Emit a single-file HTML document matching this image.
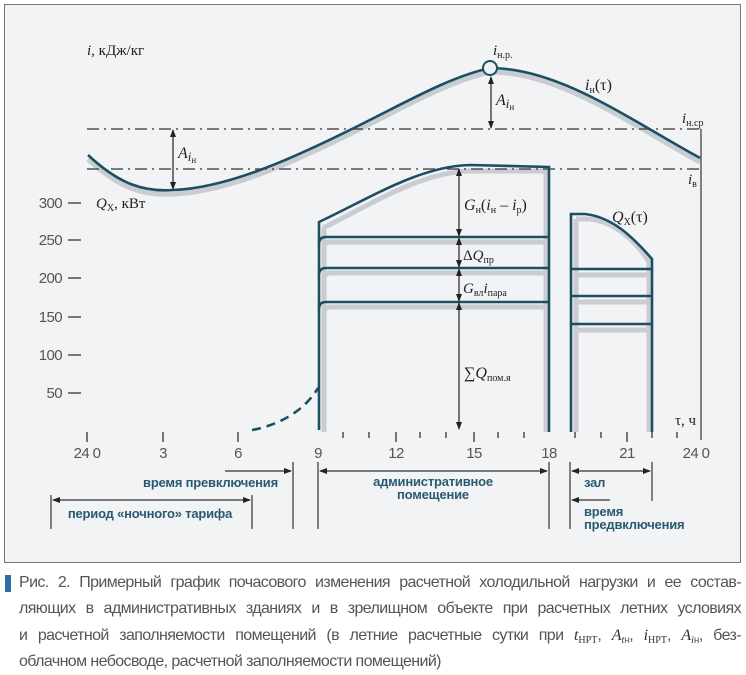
<!DOCTYPE html>
<html><head><meta charset="utf-8">
<style>
html,body{margin:0;padding:0;background:#fff;}
body{width:746px;height:675px;position:relative;overflow:hidden;font-family:"Liberation Sans",sans-serif;}
.cap{position:absolute;left:19px;width:722px;top:570px;font-size:16px;line-height:26.3px;color:#555;letter-spacing:-0.6px;}
.cap div{text-align:justify;text-align-last:justify;white-space:nowrap;height:26.3px;}
.cap div.l{text-align-last:left;}
.cap .s{font-family:"Liberation Serif",serif;color:#333;letter-spacing:0;}
.cap .d{font-size:10px;position:relative;top:3px;line-height:0;}
.bar{position:absolute;left:5px;top:575px;width:6px;height:17px;background:#2f6fa8;}
</style></head><body>
<svg width="746" height="675" style="position:absolute;left:0;top:0" font-family="Liberation Serif, serif">
<defs>
<marker id="a" markerWidth="8" markerHeight="8" refX="7" refY="4" orient="auto" markerUnits="userSpaceOnUse"><path d="M0,1 L8,4 L0,7z" fill="#222"/></marker>
<marker id="b" markerWidth="8" markerHeight="8" refX="1" refY="4" orient="auto" markerUnits="userSpaceOnUse"><path d="M8,1 L0,4 L8,7z" fill="#222"/></marker>
</defs>
<rect x="4.5" y="4.5" width="736" height="558" fill="#f1f3f5" stroke="#777" stroke-width="1"/>
<g fill="none" stroke="#c9cdd1" stroke-width="5">
<path d="M88,159 C120,189 145,196 173,194 C230,192 300,159 360,129 C410,104 450,81 490,72 C560,72 630,124 700,162"/>
<path d="M323,228 C370,205 420,172 470,171 L546,171 L546,432"/>
<path d="M324,228 L324,432"/>
<path d="M324,248 Q324,242 330,242 L546,242 M324,279 Q324,273 330,273 L546,273 M324,313 Q324,307 330,307 L546,307"/>
<path d="M576,219 L576,432 M576,219 L590,219 C615,222 635,240 649,262 L649,432 M576,275 L649,275 M576,302 L649,302 M576,330 L649,330"/>
</g>
<g stroke="#333" stroke-width="1.3" stroke-dasharray="12,5,2,5" fill="none">
<line x1="87" y1="129" x2="700" y2="129"/>
<line x1="87" y1="169" x2="700" y2="169"/>
</g>
<path d="M88,155 C120,185 145,192 173,190 C230,188 300,155 360,125 C410,100 450,77 490,68 C560,68 630,120 700,158" fill="none" stroke="#1d4f63" stroke-width="2.6"/>
<circle cx="490" cy="68" r="7" fill="#eef1f4" stroke="#1d4f63" stroke-width="2"/>
<line x1="701" y1="129" x2="701" y2="440" stroke="#444" stroke-width="1.3"/>
<g fill="none" stroke="#1d4f63" stroke-width="2.6">
<path d="M319,430 L319,222 C370,198 420,166 470,165 L549,167 L549,432"/>
<path d="M319,244 Q319,237 326,237 L549,237 M319,275 Q319,268 326,268 L549,268 M319,309 Q319,302 326,302 L549,302"/>
<path d="M571,432 L571,214 L585,214 C612,217 632,236 652,259 L652,432 M571,269 L652,269 M571,296 L652,296 M571,324 L652,324"/>
<path d="M252,430 C280,425 305,410 318,388" stroke-dasharray="9,6"/>
</g>
<g stroke="#222" stroke-width="1.2" fill="none">
<line x1="173" y1="130" x2="173" y2="189" marker-start="url(#b)" marker-end="url(#a)"/>
<line x1="491" y1="77" x2="491" y2="128" marker-start="url(#b)" marker-end="url(#a)"/>
<line x1="459" y1="169" x2="459" y2="236" marker-start="url(#b)" marker-end="url(#a)"/>
<line x1="459" y1="238" x2="459" y2="267" marker-start="url(#b)" marker-end="url(#a)"/>
<line x1="459" y1="269" x2="459" y2="301" marker-start="url(#b)" marker-end="url(#a)"/>
<line x1="459" y1="303" x2="459" y2="429" marker-start="url(#b)" marker-end="url(#a)"/>
</g>
<g stroke="#333" stroke-width="1.3">
<line x1="87" y1="432" x2="87" y2="442"/><line x1="163" y1="432" x2="163" y2="442"/><line x1="238" y1="432" x2="238" y2="442"/>
<line x1="343" y1="432" x2="343" y2="438"/><line x1="369" y1="432" x2="369" y2="438"/><line x1="396" y1="432" x2="396" y2="442"/>
<line x1="420" y1="432" x2="420" y2="438"/><line x1="446" y1="432" x2="446" y2="438"/><line x1="474" y1="432" x2="474" y2="442"/>
<line x1="498" y1="432" x2="498" y2="438"/><line x1="524" y1="432" x2="524" y2="438"/>
<line x1="575" y1="432" x2="575" y2="438"/><line x1="601" y1="432" x2="601" y2="438"/><line x1="627" y1="432" x2="627" y2="442"/>
<line x1="652" y1="432" x2="652" y2="438"/><line x1="677" y1="432" x2="677" y2="438"/>
<line x1="68" y1="203" x2="81" y2="203"/><line x1="68" y1="240" x2="81" y2="240"/><line x1="68" y1="278" x2="81" y2="278"/>
<line x1="68" y1="317" x2="81" y2="317"/><line x1="68" y1="355" x2="81" y2="355"/><line x1="68" y1="393" x2="81" y2="393"/>
</g>
<g font-family="Liberation Sans, sans-serif" font-size="15" fill="#555" letter-spacing="-0.6">
<text x="62" y="208" text-anchor="end">300</text><text x="62" y="245" text-anchor="end">250</text><text x="62" y="283" text-anchor="end">200</text>
<text x="62" y="322" text-anchor="end">150</text><text x="62" y="360" text-anchor="end">100</text><text x="62" y="398" text-anchor="end">50</text>
<text x="87" y="458" text-anchor="middle">24 0</text><text x="163" y="458" text-anchor="middle">3</text><text x="238" y="458" text-anchor="middle">6</text>
<text x="318" y="458" text-anchor="middle">9</text><text x="396" y="458" text-anchor="middle">12</text><text x="474" y="458" text-anchor="middle">15</text>
<text x="549" y="458" text-anchor="middle">18</text><text x="627" y="458" text-anchor="middle">21</text><text x="696" y="458" text-anchor="middle">24 0</text>
</g>
<g font-size="15" fill="#222">
<text x="87" y="55"><tspan font-style="italic">i</tspan>, кДж/кг</text>
<text x="96" y="208"><tspan font-style="italic">Q</tspan><tspan font-size="10" dy="3">Х</tspan><tspan dy="-3">, кВт</tspan></text>
<text x="178" y="158" font-style="italic" font-size="16">A<tspan font-size="13" dy="3">i</tspan><tspan font-size="9" dy="2" font-style="normal">н</tspan></text>
<text x="496" y="105" font-style="italic" font-size="16">A<tspan font-size="13" dy="3">i</tspan><tspan font-size="9" dy="2" font-style="normal">н</tspan></text>
<text x="493" y="55" font-style="italic">i<tspan font-size="10" font-style="normal" dy="3">н.р.</tspan></text>
<text x="585" y="90" font-style="italic" font-size="16">i<tspan font-size="10" font-style="normal" dy="3">н</tspan><tspan font-style="normal" dy="-3">(τ)</tspan></text>
<text x="682" y="123" font-style="italic">i<tspan font-size="10" font-style="normal" dy="3">н.ср</tspan></text>
<text x="688" y="184" font-style="italic">i<tspan font-size="10" font-style="normal" dy="3">в</tspan></text>
<text x="464" y="210" font-size="16"><tspan font-style="italic">G</tspan><tspan font-size="10" dy="3">н</tspan><tspan dy="-3">(</tspan><tspan font-style="italic">i</tspan><tspan font-size="10" dy="3">н</tspan><tspan dy="-3"> – </tspan><tspan font-style="italic">i</tspan><tspan font-size="10" dy="3">р</tspan><tspan dy="-3">)</tspan></text>
<text x="463" y="260" font-size="15">Δ<tspan font-style="italic">Q</tspan><tspan font-size="10" dy="3">пр</tspan></text>
<text x="463" y="293" font-size="15"><tspan font-style="italic">G</tspan><tspan font-size="10" dy="3">вл</tspan><tspan font-style="italic" dy="-3">i</tspan><tspan font-size="10" dy="3">пара</tspan></text>
<text x="464" y="378" font-size="16">∑<tspan font-style="italic">Q</tspan><tspan font-size="10" dy="3">пом.я</tspan></text>
<text x="612" y="222" font-size="16"><tspan font-style="italic">Q</tspan><tspan font-size="10" dy="3">Х</tspan><tspan dy="-3">(τ)</tspan></text>
<text x="675" y="425" font-size="15">τ, ч</text>
</g>
<g stroke="#333" stroke-width="1.2">
<line x1="293" y1="462" x2="293" y2="529"/><line x1="318" y1="462" x2="318" y2="529"/>
<line x1="549" y1="462" x2="549" y2="529"/><line x1="570" y1="462" x2="570" y2="529"/>
<line x1="652" y1="462" x2="652" y2="501"/>
<line x1="51" y1="495" x2="51" y2="529"/><line x1="252" y1="495" x2="252" y2="529"/>
<line x1="225" y1="471" x2="291" y2="471" marker-end="url(#a)"/>
<line x1="320" y1="471" x2="547" y2="471" marker-start="url(#b)" marker-end="url(#a)"/>
<line x1="572" y1="471" x2="650" y2="471" marker-start="url(#b)" marker-end="url(#a)"/>
<line x1="53" y1="500" x2="250" y2="500" marker-start="url(#b)" marker-end="url(#a)"/>
<line x1="572" y1="500" x2="610" y2="500" marker-start="url(#b)"/>
</g>
<g font-family="Liberation Sans, sans-serif" font-size="13" fill="#2a5a72" font-weight="bold" letter-spacing="-0.2">
<text x="278" y="487" text-anchor="end">время превключения</text>
<text x="150" y="518" text-anchor="middle">период «ночного» тарифа</text>
<text x="433" y="486" text-anchor="middle">административное</text>
<text x="433" y="499" text-anchor="middle">помещение</text>
<text x="584" y="487">зал</text>
<text x="584" y="516">время</text>
<text x="584" y="529">предвключения</text>
</g>
</svg>
<div class="bar"></div>
<div class="cap">
<div>Рис. 2. Примерный график почасового изменения расчетной холодильной нагрузки и ее состав-</div>
<div>ляющих в административных зданиях и в зрелищном объекте при расчетных летних условиях</div>
<div>и расчетной заполняемости помещений (в летние расчетные сутки при <i class="s">t</i><span class="s d">НРТ</span>, <i class="s">A<span class="d">t</span></i><span class="d">н</span>, <i class="s">i</i><span class="s d">НРТ</span>, <i class="s">A<span class="d">i</span></i><span class="d">н</span>, без-</div>
<div class="l">облачном небосводе, расчетной заполняемости помещений)</div>
</div>
</body></html>
